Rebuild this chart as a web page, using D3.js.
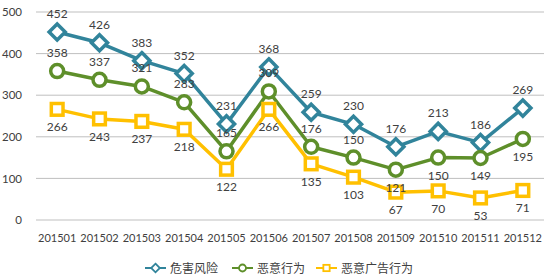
<!DOCTYPE html>
<html>
<head>
<meta charset="utf-8">
<script src="https://cdn.jsdelivr.net/npm/d3@7"></script>
<style>
  body { margin: 0; background: #fff; }
  svg text { font-family: Lato, "Noto Sans CJK SC", sans-serif; fill: #404040; }
</style>
</head>
<body>
<div id="chart"></div>
<script>
const months = ['201501', '201502', '201503', '201504', '201505', '201506', '201507', '201508', '201509', '201510', '201511', '201512'];
const riskValues = [452, 426, 383, 352, 231, 368, 259, 230, 176, 213, 186, 269];
const maliciousValues = [358, 337, 321, 283, 165, 309, 176, 150, 121, 150, 149, 195];
const adValues = [266, 243, 237, 218, 122, 266, 135, 103, 67, 70, 53, 71];
const seriesNames = ['危害风险', '恶意行为', '恶意广告行为'];
const yTicks = [0, 100, 200, 300, 400, 500];
// green labels switch from above to below from this index on
const greenBelowFrom = 8;

const width = 550;
const height = 278;
const margin = { top: 12, right: 6, bottom: 58, left: 36 };
const innerW = width - margin.left - margin.right;
const innerH = height - margin.top - margin.bottom;

const svg = d3.select('#chart').append('svg').attr('width', width).attr('height', height);
const g = svg.append('g').attr('transform', `translate(${margin.left},${margin.top})`);

const x = d3.scaleBand().domain(months).range([0, innerW]);
const y = d3.scaleLinear().domain([0, 500]).range([innerH, 0]);
const cx = d => x(d) + x.bandwidth() / 2;

// grid
g.append('g')
  .selectAll('line')
  .data(yTicks)
  .join('line')
  .attr('x1', 0)
  .attr('x2', innerW)
  .attr('y1', d => y(d))
  .attr('y2', d => y(d))
  .attr('stroke', '#bfbfbf')
  .attr('stroke-width', 1);

const yAxis = g.append('g').call(d3.axisLeft(y).tickValues(yTicks).tickSize(0).tickPadding(14));
yAxis.select('.domain').remove();
yAxis.selectAll('text').style('font-size', '11.5px').attr('fill', '#404040');

const xAxis = g.append('g')
  .attr('transform', `translate(0,${innerH})`)
  .call(d3.axisBottom(x).tickSize(0).tickPadding(14));
xAxis.select('.domain').remove();
xAxis.selectAll('text').style('font-size', '11px').attr('fill', '#404040');

const series = [
  { name: seriesNames[0], values: riskValues, color: '#31849b', shape: 'diamond', labelPos: () => 'above' },
  { name: seriesNames[1], values: maliciousValues, color: '#5e8f2a', shape: 'circle', labelPos: i => (i >= greenBelowFrom ? 'below' : 'above') },
  { name: seriesNames[2], values: adValues, color: '#ffc000', shape: 'square', labelPos: () => 'below' }
];

const line = d3.line().x((d, i) => cx(months[i])).y(d => y(d));

function drawMarker(sel, shape, color, size, sw) {
  if (shape === 'circle') {
    sel.append('circle').attr('r', size * 0.5).attr('fill', '#fff').attr('stroke', color).attr('stroke-width', sw);
  } else if (shape === 'square') {
    const s = size * 0.9;
    sel.append('rect').attr('x', -s / 2).attr('y', -s / 2).attr('width', s).attr('height', s)
      .attr('fill', '#fff').attr('stroke', color).attr('stroke-width', sw);
  } else {
    const s = size * 0.62;
    sel.append('path').attr('d', `M0,${-s}L${s},0L0,${s}L${-s},0Z`)
      .attr('fill', '#fff').attr('stroke', color).attr('stroke-width', sw);
  }
}

series.forEach(s => {
  g.append('path')
    .datum(s.values)
    .attr('fill', 'none')
    .attr('stroke', s.color)
    .attr('stroke-width', 3.5)
    .attr('stroke-linejoin', 'round')
    .attr('d', line);
});

series.forEach(s => {
  s.values.forEach((v, i) => {
    const m = g.append('g').attr('transform', `translate(${cx(months[i])},${y(v)})`);
    drawMarker(m, s.shape, s.color, 13, 3.5);
  });
});

series.forEach(s => {
  g.append('g')
    .selectAll('text')
    .data(s.values)
    .join('text')
    .attr('x', (d, i) => cx(months[i]))
    .attr('y', (d, i) => y(d) + (s.labelPos(i) === 'above' ? -14 : 22))
    .attr('text-anchor', 'middle')
    .style('font-size', '12px')
    .text(d => d);
});

// legend
const legendItems = [
  { x: 145, s: series[0] },
  { x: 232, s: series[1] },
  { x: 316, s: series[2] }
];
const legendY = 268;
legendItems.forEach(item => {
  const lg = svg.append('g').attr('transform', `translate(${item.x},${legendY})`);
  lg.append('line').attr('x1', 0).attr('x2', 21).attr('y1', 0).attr('y2', 0)
    .attr('stroke', item.s.color).attr('stroke-width', 2);
  const m = lg.append('g').attr('transform', 'translate(10.5,0)');
  drawMarker(m, item.s.shape, item.s.color, 7, 1.8);
  lg.append('text').attr('x', 25).attr('y', 4.5).style('font-size', '12px').text(item.s.name);
});
</script>
</body>
</html>
